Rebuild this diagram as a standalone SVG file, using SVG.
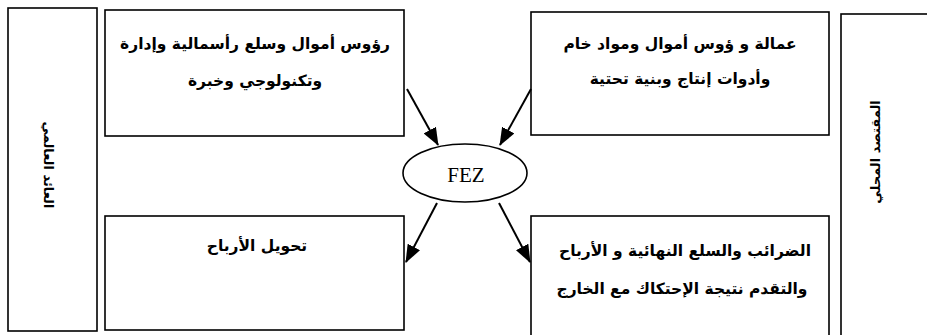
<svg xmlns="http://www.w3.org/2000/svg" width="927" height="335" viewBox="0 0 927 335">
<defs>
<style>
.box{fill:#fff;stroke:#000;stroke-width:1.6}
.ar{font-family:"DejaVu Sans",sans-serif;font-weight:bold;font-size:15.5px;fill:#000;text-anchor:middle;direction:rtl}
.arv{font-family:"DejaVu Sans",sans-serif;font-weight:bold;font-size:13px;fill:#000;text-anchor:middle;direction:rtl}
.con{stroke:#000;stroke-width:2;fill:none;marker-end:url(#ah)}
</style>
<marker id="ah" viewBox="0 0 18 14" refX="17" refY="7" markerWidth="18" markerHeight="14" markerUnits="userSpaceOnUse" orient="auto">
<path d="M0,0 L18,7 L0,14 z" fill="#000"/>
</marker>
</defs>
<rect width="927" height="335" fill="#fff"/>
<g id="global">
<rect class="box" x="8" y="8" width="89" height="323"/>
<text class="arv" transform="translate(48,165) rotate(90)" y="4">العائد العالمي</text>
</g>
<g id="local">
<rect class="box" x="841" y="14" width="100" height="330"/>
<text class="arv" transform="translate(876,152) rotate(-90)" y="4">المقتصد المحلي</text>
</g>
<g id="inputs-global">
<rect class="box" x="105" y="10" width="299" height="126"/>
<text class="ar" x="255" y="49">رؤوس أموال وسلع رأسمالية وإدارة</text>
<text class="ar" x="255" y="86">وتكنولوجي وخبرة</text>
</g>
<g id="inputs-local">
<rect class="box" x="531" y="12" width="298" height="123"/>
<text class="ar" x="680" y="49">عمالة و ؤوس أموال ومواد خام</text>
<text class="ar" x="680" y="84">وأدوات إنتاج وبنية تحتية</text>
</g>
<g id="profits">
<rect class="box" x="105" y="216" width="299" height="114"/>
<text class="ar" x="257" y="251">تحويل الأرباح</text>
</g>
<g id="outputs-local">
<rect class="box" x="531" y="216" width="298" height="130"/>
<text class="ar" x="685" y="256">الضرائب والسلع النهائية و الأرباح</text>
<text class="ar" x="682" y="294">والتقدم نتيجة الإحتكاك مع الخارج</text>
</g>
<g id="fez">
<ellipse cx="465" cy="173" rx="62" ry="29" fill="#fff" stroke="#000" stroke-width="1.6"/>
<text x="466" y="182" font-family="Liberation Serif,serif" font-size="21" text-anchor="middle">FEZ</text>
</g>
<g id="connectors">
<line class="con" x1="407" y1="89" x2="438" y2="145"/>
<line class="con" x1="531" y1="89" x2="500" y2="145"/>
<line class="con" x1="437" y1="203" x2="406" y2="262"/>
<line class="con" x1="499" y1="203" x2="530" y2="262"/>
</g>
</svg>
